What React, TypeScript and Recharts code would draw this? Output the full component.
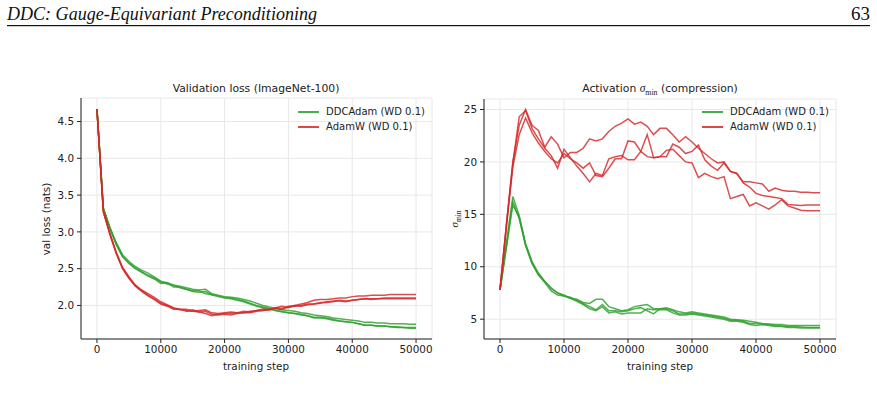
import React from 'react';
import { LineChart, Line, XAxis, YAxis, CartesianGrid } from 'recharts';

const steps = [0, 1000, 2000, 3000, 4000, 5000, 6000, 7000, 8000, 9000, 10000, 11000, 12000, 13000, 14000, 15000, 16000, 17000, 18000, 19000, 20000, 21000, 22000, 23000, 24000, 25000, 26000, 27000, 28000, 29000, 30000, 31000, 32000, 33000, 34000, 35000, 36000, 37000, 38000, 39000, 40000, 41000, 42000, 43000, 44000, 45000, 46000, 47000, 48000, 49000, 50000];

const xTicks = [0, 10000, 20000, 30000, 40000, 50000];
const lossTicks = [2.0, 2.5, 3.0, 3.5, 4.0, 4.5];
const sigmaTicks = [5, 10, 15, 20, 25];

// Validation loss, DDCAdam (3 seeds)
const lossDdc1 = [4.67, 3.32, 3.07, 2.86, 2.69, 2.60, 2.53, 2.48, 2.44, 2.39, 2.33, 2.31, 2.28, 2.26, 2.24, 2.22, 2.21, 2.22, 2.16, 2.14, 2.12, 2.11, 2.10, 2.08, 2.06, 2.03, 2.00, 1.98, 1.96, 1.94, 1.93, 1.92, 1.90, 1.89, 1.87, 1.86, 1.85, 1.83, 1.82, 1.81, 1.80, 1.79, 1.77, 1.77, 1.76, 1.76, 1.75, 1.75, 1.75, 1.745, 1.745];
const lossDdc2 = [4.67, 3.31, 3.05, 2.84, 2.67, 2.58, 2.51, 2.46, 2.41, 2.37, 2.32, 2.29, 2.27, 2.24, 2.22, 2.20, 2.20, 2.16, 2.15, 2.13, 2.11, 2.10, 2.08, 2.06, 2.03, 2.00, 1.98, 1.96, 1.93, 1.92, 1.90, 1.89, 1.88, 1.86, 1.83, 1.83, 1.82, 1.80, 1.79, 1.78, 1.77, 1.75, 1.73, 1.73, 1.72, 1.72, 1.71, 1.71, 1.70, 1.70, 1.70];
const lossDdc3 = [4.67, 3.33, 3.06, 2.83, 2.66, 2.57, 2.50, 2.45, 2.40, 2.36, 2.30, 2.31, 2.25, 2.25, 2.22, 2.19, 2.18, 2.19, 2.14, 2.12, 2.10, 2.09, 2.07, 2.05, 2.02, 1.99, 1.97, 1.95, 1.93, 1.91, 1.90, 1.89, 1.87, 1.86, 1.84, 1.84, 1.83, 1.81, 1.79, 1.78, 1.77, 1.75, 1.73, 1.73, 1.72, 1.72, 1.71, 1.70, 1.70, 1.69, 1.69];
// Validation loss, AdamW (3 seeds)
const lossAdam1 = [4.67, 3.29, 2.99, 2.73, 2.52, 2.39, 2.28, 2.21, 2.16, 2.11, 2.05, 2.01, 1.97, 1.95, 1.95, 1.92, 1.93, 1.94, 1.90, 1.89, 1.90, 1.91, 1.90, 1.92, 1.91, 1.93, 1.93, 1.95, 1.97, 1.99, 1.97, 2.00, 2.02, 2.04, 2.07, 2.08, 2.08, 2.09, 2.10, 2.10, 2.12, 2.13, 2.13, 2.14, 2.14, 2.14, 2.15, 2.15, 2.15, 2.15, 2.15];
const lossAdam2 = [4.67, 3.27, 2.98, 2.72, 2.51, 2.38, 2.27, 2.20, 2.14, 2.09, 2.03, 2.00, 1.96, 1.94, 1.93, 1.94, 1.91, 1.89, 1.86, 1.88, 1.89, 1.89, 1.90, 1.90, 1.92, 1.93, 1.95, 1.94, 1.96, 1.95, 1.98, 1.99, 2.00, 2.02, 2.02, 2.03, 2.05, 2.06, 2.06, 2.05, 2.07, 2.08, 2.09, 2.09, 2.09, 2.10, 2.10, 2.10, 2.10, 2.10, 2.10];
const lossAdam3 = [4.67, 3.28, 2.97, 2.71, 2.50, 2.37, 2.26, 2.19, 2.13, 2.08, 2.02, 1.99, 1.95, 1.95, 1.92, 1.92, 1.91, 1.92, 1.88, 1.87, 1.88, 1.87, 1.89, 1.90, 1.90, 1.92, 1.93, 1.94, 1.97, 1.96, 1.99, 2.00, 1.99, 2.01, 2.02, 2.04, 2.04, 2.05, 2.07, 2.06, 2.07, 2.08, 2.09, 2.08, 2.09, 2.09, 2.09, 2.09, 2.09, 2.09, 2.09];

// Activation sigma_min, DDCAdam (3 seeds)
const sigDdc1 = [7.8, 12.3, 16.7, 14.9, 12.2, 10.5, 9.4, 8.6, 8.0, 7.5, 7.3, 7.0, 6.9, 6.6, 6.5, 6.9, 6.9, 6.2, 6.0, 5.8, 5.9, 6.2, 6.3, 6.4, 6.0, 6.0, 6.1, 5.9, 5.7, 5.6, 5.7, 5.6, 5.5, 5.4, 5.3, 5.2, 5.0, 4.95, 4.9, 4.8, 4.7, 4.6, 4.55, 4.5, 4.5, 4.4, 4.4, 4.4, 4.4, 4.4, 4.4];
const sigDdc2 = [7.8, 12.0, 16.2, 14.6, 12.0, 10.3, 9.2, 8.5, 7.7, 7.3, 7.2, 7.1, 6.8, 6.5, 6.2, 5.9, 6.4, 5.8, 5.8, 5.7, 5.8, 6.0, 6.1, 5.8, 5.5, 6.0, 6.0, 5.8, 5.5, 5.5, 5.6, 5.5, 5.4, 5.3, 5.2, 5.1, 4.9, 4.9, 4.8, 4.6, 4.6, 4.5, 4.5, 4.4, 4.35, 4.3, 4.3, 4.25, 4.2, 4.2, 4.2];
const sigDdc3 = [7.8, 11.8, 15.9, 14.7, 12.1, 10.4, 9.3, 8.6, 7.9, 7.5, 7.2, 7.0, 6.7, 6.4, 6.0, 5.8, 6.2, 5.6, 5.7, 5.5, 5.6, 5.6, 5.6, 6.0, 5.9, 5.9, 5.9, 5.6, 5.4, 5.4, 5.5, 5.4, 5.3, 5.2, 5.1, 5.0, 4.8, 4.8, 4.7, 4.5, 4.4, 4.5, 4.4, 4.3, 4.3, 4.2, 4.2, 4.15, 4.15, 4.15, 4.15];
// Activation sigma_min, AdamW (3 seeds)
const sigAdam1 = [7.8, 14.0, 20.0, 23.5, 25.0, 23.5, 23.0, 21.4, 22.4, 21.7, 20.4, 20.9, 20.9, 21.3, 22.2, 22.0, 22.2, 22.9, 23.4, 23.7, 24.1, 23.6, 23.8, 23.4, 22.6, 23.2, 23.2, 22.6, 21.9, 22.4, 21.9, 21.3, 20.8, 20.3, 19.9, 20.0, 19.1, 18.9, 18.1, 18.1, 18.0, 17.9, 17.2, 17.5, 17.3, 17.2, 17.2, 17.1, 17.1, 17.05, 17.05];
const sigAdam2 = [7.8, 14.0, 19.8, 24.3, 24.9, 23.2, 22.2, 21.3, 20.6, 19.4, 21.2, 20.4, 19.6, 18.9, 18.1, 18.9, 18.7, 20.3, 20.5, 20.6, 20.2, 20.2, 21.0, 22.6, 20.4, 20.5, 20.5, 21.7, 21.4, 20.8, 21.0, 21.6, 20.2, 19.6, 19.2, 19.9, 19.1, 18.9, 18.0, 17.6, 17.0, 16.8, 16.7, 16.6, 16.5, 15.95, 15.9, 15.85, 15.9, 15.9, 15.9];
const sigAdam3 = [7.8, 13.8, 19.5, 22.6, 24.2, 22.8, 21.8, 21.0, 20.3, 19.9, 20.8, 20.3, 19.9, 19.4, 19.9, 18.7, 18.6, 19.4, 20.3, 20.3, 22.0, 21.9, 21.0, 20.5, 20.4, 20.5, 21.1, 21.2, 20.6, 20.0, 19.9, 18.5, 18.9, 18.6, 18.4, 18.6, 16.5, 16.7, 16.9, 15.8, 16.1, 15.8, 15.5, 15.9, 16.4, 15.8, 15.6, 15.4, 15.35, 15.35, 15.35];

const legendItems = [
  { label: 'DDCAdam (WD 0.1)', color: '#2ca02c' },
  { label: 'AdamW (WD 0.1)', color: '#d62728' },
];

const lossData = steps.map((s, i) => ({
  step: s,
  g1: lossDdc1[i], g2: lossDdc2[i], g3: lossDdc3[i],
  r1: lossAdam1[i], r2: lossAdam2[i], r3: lossAdam3[i],
}));
const sigData = steps.map((s, i) => ({
  step: s,
  g1: sigDdc1[i], g2: sigDdc2[i], g3: sigDdc3[i],
  r1: sigAdam1[i], r2: sigAdam2[i], r3: sigAdam3[i],
}));

const GREEN = '#2ca02c';
const RED = '#d62728';
const AX = '#222222';
const SANS = '"DejaVu Sans", sans-serif';
const SERIF = '"Liberation Serif", "DejaVu Serif", serif';

const tickStyle = { fontSize: 10.4, fill: AX, fontFamily: SANS };

function seriesLines() {
  const keys = [
    ['g1', GREEN], ['g2', GREEN], ['g3', GREEN],
    ['r1', RED], ['r2', RED], ['r3', RED],
  ];
  return keys.map(([k, c]) => (
    <Line key={k} type="linear" dataKey={k} stroke={c} strokeOpacity={0.82} strokeWidth={1.5}
      dot={false} activeDot={false} isAnimationActive={false} />
  ));
}

function Legend({ left, top }: { left: number; top: number }) {
  return (
    <div style={{ position: 'absolute', left, top }}>
      {legendItems.map((it, i) => (
        <div key={it.label} style={{ position: 'absolute', left: 0, top: i * 15, whiteSpace: 'nowrap', height: 0 }}>
          <div style={{ position: 'absolute', left: 0, top: -0.75, width: 21, height: 1.5, background: it.color, opacity: 0.85 }} />
          <div style={{ position: 'absolute', left: 28, top: -6, fontSize: 10, lineHeight: '12px', fontFamily: SANS, color: AX }}>{it.label}</div>
        </div>
      ))}
    </div>
  );
}

function Centered({ x, y, rotate, children, style }: any) {
  return (
    <div style={{ position: 'absolute', left: x, top: y, transform: `translate(-50%, -50%)${rotate ? ' rotate(-90deg)' : ''}`, whiteSpace: 'nowrap', lineHeight: 1, fontFamily: SANS, fontSize: 10.4, color: AX, ...style }}>
      {children}
    </div>
  );
}

function Sigma({ size }: { size: number }) {
  return (
    <span style={{ fontFamily: SERIF }}>
      <span style={{ fontStyle: 'italic', fontSize: size }}>σ</span>
      <span style={{ fontSize: size * 0.68, position: 'relative', top: size * 0.25 }}>min</span>
    </span>
  );
}

export default function App() {
  return (
    <div style={{ position: 'fixed', left: 0, top: 0, width: 877, height: 404, background: '#fff', overflow: 'hidden' }}>
      {/* page header */}
      <svg width={877} height={30} style={{ position: 'absolute', left: 0, top: 0 }}>
        <text x={7} y={19.5} fontFamily={SERIF} fontStyle="italic" fontSize={19} fill="#111"
          textLength={310} lengthAdjust="spacingAndGlyphs">DDC: Gauge-Equivariant Preconditioning</text>
        <text x={870} y={19.5} fontFamily={SERIF} fontSize={19} fill="#111" textAnchor="end">63</text>
        <rect x={7} y={25} width={863} height={1.2} fill="#111" />
      </svg>

      {/* left chart */}
      <div style={{ position: 'absolute', left: 0, top: 0 }}>
        <LineChart width={440} height={404} data={lossData} margin={{ top: 98, right: 8, bottom: 35, left: 41 }}>
          <CartesianGrid stroke="#e8e8e8" strokeWidth={1} />
          <XAxis dataKey="step" type="number" domain={[-2500, 52500]} ticks={xTicks} height={30}
            tick={tickStyle} tickSize={4} tickMargin={3} stroke={AX} axisLine={{ stroke: AX }} tickLine={{ stroke: AX }} interval={0} />
          <YAxis type="number" domain={[1.544, 4.82]} ticks={lossTicks} width={40} allowDataOverflow
            tick={tickStyle} tickSize={4} tickMargin={3} tickFormatter={(v: number) => v.toFixed(1)}
            axisLine={{ stroke: AX }} tickLine={{ stroke: AX }} interval={0} />
          {seriesLines()}
        </LineChart>
      </div>
      <Centered x={256} y={89} style={{ fontSize: 10.8 }}>Validation loss (ImageNet-100)</Centered>
      <Centered x={256} y={366}>training step</Centered>
      <Centered x={46} y={219} rotate>val loss (nats)</Centered>
      <Legend left={298} top={112} />

      {/* right chart */}
      <div style={{ position: 'absolute', left: 400, top: 0 }}>
        <LineChart width={477} height={404} data={sigData} margin={{ top: 99, right: 41, bottom: 35, left: 44 }}>
          <CartesianGrid stroke="#e8e8e8" strokeWidth={1} />
          <XAxis dataKey="step" type="number" domain={[-2500, 52500]} ticks={xTicks} height={30}
            tick={tickStyle} tickSize={4} tickMargin={3} axisLine={{ stroke: AX }} tickLine={{ stroke: AX }} interval={0} />
          <YAxis type="number" domain={[3.11, 26.0]} ticks={sigmaTicks} width={40} allowDataOverflow
            tick={tickStyle} tickSize={4} tickMargin={3}
            axisLine={{ stroke: AX }} tickLine={{ stroke: AX }} interval={0} />
          {seriesLines()}
        </LineChart>
      </div>
      <Centered x={660} y={89} style={{ fontSize: 10.8 }}>Activation <Sigma size={11.5} /> (compression)</Centered>
      <Centered x={660} y={366}>training step</Centered>
      <Centered x={455} y={219} rotate><Sigma size={11} /></Centered>
      <Legend left={702} top={112} />
    </div>
  );
}
